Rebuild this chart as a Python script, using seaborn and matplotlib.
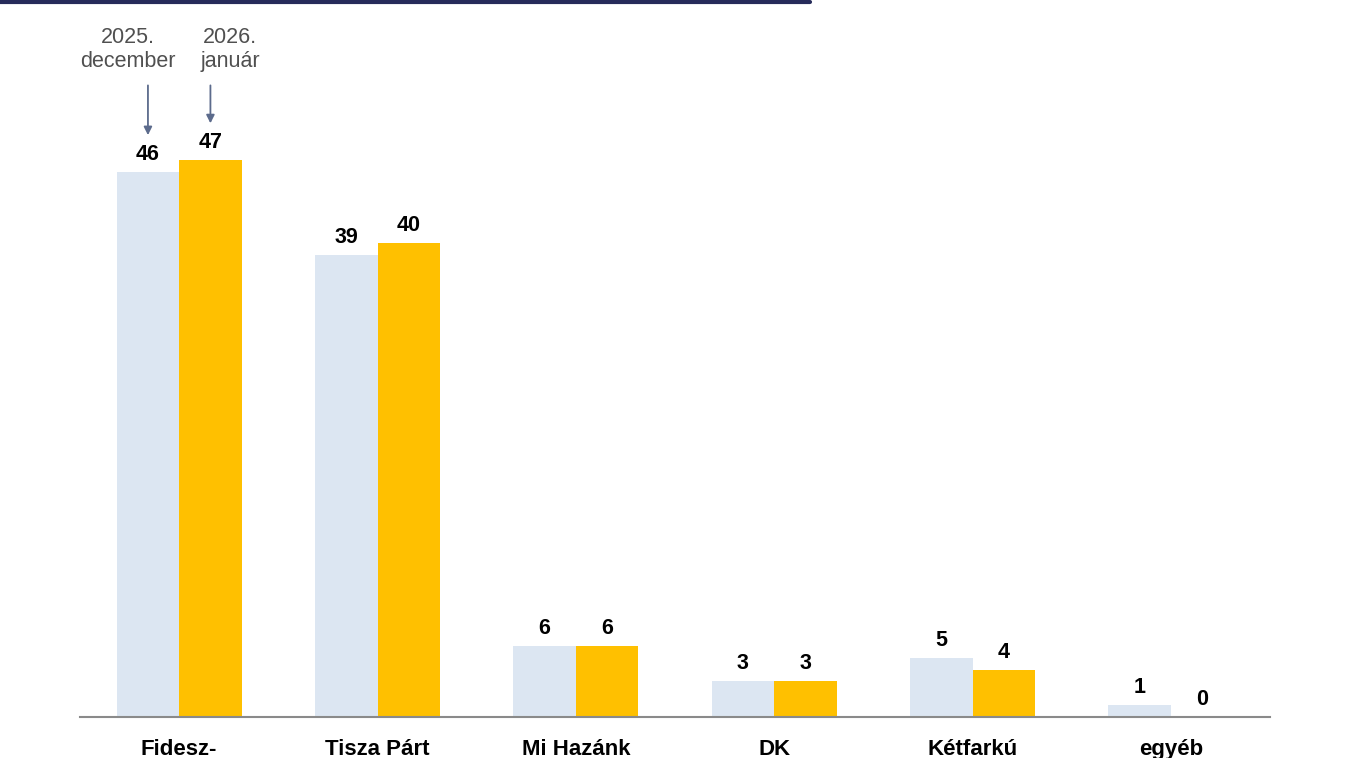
import pandas as pd
import matplotlib.pyplot as plt
import seaborn as sns
from matplotlib.lines import Line2D

# Data
parties = ["Fidesz-", "Tisza Párt", "Mi Hazánk", "DK", "Kétfarkú", "egyéb"]
months = ["2025.\ndecember", "2026.\njanuár"]
dec_2025 = [46, 39, 6, 3, 5, 1]
jan_2026 = [47, 40, 6, 3, 4, 0]
colors = ["#DCE6F2", "#FFC000"]

df = pd.DataFrame({
    "party": parties * 2,
    "month": [months[0]] * len(parties) + [months[1]] * len(parties),
    "value": dec_2025 + jan_2026,
})

sns.set_theme(style="white")
plt.rcParams["font.family"] = ["Liberation Sans", "DejaVu Sans"]

fig = plt.figure(figsize=(13.47, 7.58), dpi=100)
ax = fig.add_axes([0.0594, 0.0541, 0.8835, 0.938])

sns.barplot(data=df, x="party", y="value", hue="month", palette=colors,
            width=0.63, saturation=1, legend=False, linewidth=0, ax=ax)

ax.set_ylim(0, 60)
ax.set_xlim(-0.5, 5.5)
ax.set_xlabel("")
ax.set_ylabel("")
ax.set_yticks([])
for side in ["top", "left", "right"]:
    ax.spines[side].set_visible(False)
ax.spines["bottom"].set_color("#8a8a8a")
ax.spines["bottom"].set_linewidth(1.5)
ax.tick_params(axis="x", length=0, pad=16)
for lab in ax.get_xticklabels():
    lab.set_fontsize(16)
    lab.set_fontweight("bold")
    lab.set_color("black")

# Value labels
for cont in ax.containers:
    ax.bar_label(cont, fmt="%d", padding=5, fontsize=15.5,
                 fontweight="bold", color="black")

# Month annotations above first pair
first = [ax.containers[0][0], ax.containers[1][0]]
for i, bar in enumerate(first):
    cx = bar.get_x() + bar.get_width() / 2
    h = bar.get_height()
    ax.annotate("", xy=(cx, h + 3.1), xytext=(cx, 53.3),
                arrowprops=dict(arrowstyle="-|>", color="#5c6b8c", lw=1.3,
                                mutation_scale=12, shrinkA=0, shrinkB=0))
    tx = cx - 0.1 if i == 0 else cx + 0.1
    ax.text(tx, 56.3, months[i], ha="center", va="center", fontsize=15.5,
            color="#505050", linespacing=1.2)

# Dark band at the top of the slide
fig.add_artist(Line2D([0, 0.601], [0.998, 0.998], color="#262b5a", lw=3,
                      transform=fig.transFigure))

fig.savefig("out.png", dpi=100)
